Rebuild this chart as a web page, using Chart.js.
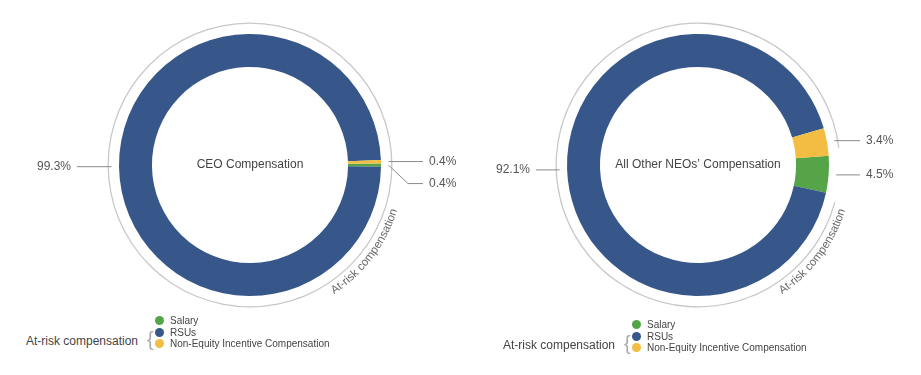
<!DOCTYPE html>
<html>
<head>
<meta charset="utf-8">
<script src="https://cdn.jsdelivr.net/npm/chart.js@4.4.0/dist/chart.umd.min.js"></script>
<style>
body { margin: 0; background: #fff; font-family: "Liberation Sans", Arial, sans-serif; }
#wrap { position: relative; width: 921px; height: 375px; overflow: hidden; }
.box { position: absolute; top: 0; width: 500px; height: 330px; }
.legend { position: absolute; color: #444; }
.legend .title { position: absolute; font-size: 12px; line-height: 14px; white-space: nowrap; text-align: right; width: 140px; }
.legend .brace { position: absolute; font-size: 20px; line-height: 20px; color: #aaa; }
.legend .row { position: absolute; font-size: 10px; line-height: 11.5px; white-space: nowrap; }
.legend .dot { position: absolute; width: 9px; height: 9px; border-radius: 50%; }
</style>
</head>
<body>
<div id="wrap">
  <div class="box" style="left:0px"><canvas id="ceoChart" width="500" height="330"></canvas></div>
  <div class="box" style="left:448px"><canvas id="neoChart" width="500" height="330"></canvas></div>
  <div class="legend" id="ceoLegend" style="left:159px;top:315px"></div>
  <div class="legend" id="neoLegend" style="left:636px;top:319px"></div>
</div>
<script>
const categories = ["Salary", "RSUs", "Non-Equity Incentive Compensation"];
const colors = ["#55a548", "#37578a", "#f2bd42"];
const ceoValues = [0.4, 99.3, 0.4];
const neoValues = [4.5, 92.1, 3.4];
const ceoTitle = "CEO Compensation";
const neoTitle = "All Other NEOs\u2019 Compensation";
const groupLabel = "At-risk compensation";

// value labels, centre title and the curved group label
const pieLabels = {
  id: "pieLabels",
  afterDatasetsDraw(chart, args, opts) {
    const ctx = chart.ctx;
    const meta = chart.getDatasetMeta(2);
    const values = chart.data.datasets[2].data;
    const cx = meta.data[0].x, cy = meta.data[0].y;
    const R = chart.getDatasetMeta(0).data[0].outerRadius;
    ctx.save();
    ctx.font = "12px 'Liberation Sans', Arial, sans-serif";
    ctx.fillStyle = "#444";
    ctx.textAlign = "center";
    ctx.textBaseline = "middle";
    ctx.fillText(opts.title, cx, cy);

    const items = meta.data.map((a, i) => {
      const mid = (a.startAngle + a.endAngle) / 2;
      const ax = cx + (R - 4) * Math.cos(mid);
      const ay = cy + (R - 4) * Math.sin(mid);
      return { i: i, ax: ax, ay: ay, y: ay, right: Math.cos(mid) >= 0 };
    });
    [true, false].forEach(side => {
      const list = items.filter(o => o.right === side).sort((a, b) => a.ay - b.ay);
      for (let k = 1; k < list.length; k++) {
        list[k].y = Math.max(list[k].y, list[k - 1].y + 22);
      }
    });
    items.forEach(o => {
      const dir = o.right ? 1 : -1;
      const xEnd = cx + dir * opts.dist;
      ctx.strokeStyle = "#8a8a8a";
      ctx.lineWidth = 1;
      ctx.beginPath();
      ctx.moveTo(o.ax, o.ay);
      ctx.lineTo(xEnd - dir * 15, o.y);
      ctx.lineTo(xEnd, o.y);
      ctx.stroke();
      ctx.fillStyle = "#555";
      ctx.textAlign = o.right ? "left" : "right";
      ctx.fillText(values[o.i].toFixed(1) + "%", xEnd + dir * 6, o.y);
    });

    // curved label along the grey arc, reading anticlockwise
    ctx.font = "11.5px 'Liberation Sans', Arial, sans-serif";
    ctx.fillStyle = "#6a6a6a";
    ctx.textAlign = "center";
    ctx.textBaseline = "alphabetic";
    const rb = R + 11.5;
    const chars = [...groupLabel];
    const widths = chars.map(c => ctx.measureText(c).width);
    const tot = widths.reduce((s, w) => s + w, 0);
    let th = opts.textAngle * Math.PI / 180 + tot / rb / 2;
    chars.forEach((c, k) => {
      const tc = th - widths[k] / 2 / rb;
      ctx.save();
      ctx.translate(cx + rb * Math.cos(tc), cy + rb * Math.sin(tc));
      ctx.rotate(tc - Math.PI / 2);
      ctx.fillText(c, 0, 0);
      ctx.restore();
      th -= widths[k] / rb;
    });
    ctx.restore();
  }
};

function makeChart(id, values, title, rotation, dist, pad) {
  const total = values.reduce((a, b) => a + b, 0);
  const salaryDeg = values[0] / total * 360;
  return new Chart(id, {
    type: "doughnut",
    data: {
      labels: categories,
      datasets: [
        {
          data: [total - values[0]],
          backgroundColor: "#c8c8c8",
          borderWidth: 0,
          weight: 1.3,
          rotation: rotation + salaryDeg + pad,
          circumference: 360 - salaryDeg - 2 * pad
        },
        { data: [total], backgroundColor: "rgba(0,0,0,0)", borderWidth: 0, weight: 10.2 },
        { data: values, backgroundColor: colors, borderWidth: 0, weight: 33, rotation: rotation }
      ]
    },
    options: {
      responsive: false,
      animation: false,
      events: [],
      cutout: "68.8%",
      layout: { padding: { left: 107.5, right: 107.5, top: 22.5, bottom: 22.5 } },
      plugins: {
        legend: { display: false },
        tooltip: { enabled: false },
        pieLabels: { title: title, dist: dist, textAngle: 37 }
      }
    },
    plugins: [pieLabels]
  });
}

function makeLegend(id) {
  const el = document.getElementById(id);
  let html = '<div class="title" style="left:-161px;top:19px">' + groupLabel + '</div>';
  html += '<div class="brace" style="left:-12px;top:14px">{</div>';
  categories.forEach((c, i) => {
    const top = i * 11.5;
    html += '<div class="dot" style="left:-4.5px;top:' + (top + 1.3) + 'px;background:' + colors[i] + '"></div>';
    html += '<div class="row" style="left:11px;top:' + top + 'px">' + c + '</div>';
  });
  el.innerHTML = html;
}

makeChart("ceoChart", ceoValues, ceoTitle, 89.3, 173, -0.7);
makeChart("neoChart", neoValues, neoTitle, 86, 162, 3);
makeLegend("ceoLegend");
makeLegend("neoLegend");
</script>
</body>
</html>
